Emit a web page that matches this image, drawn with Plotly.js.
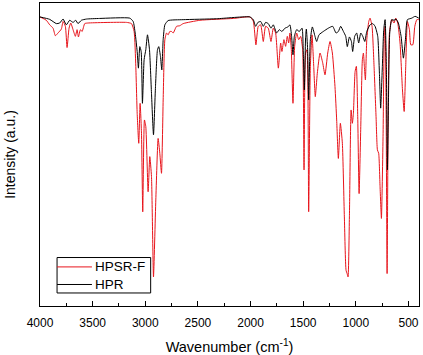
<!DOCTYPE html>
<html>
<head>
<meta charset="utf-8">
<script src="https://cdn.plot.ly/plotly-3.0.1.min.js"></script>
<style>html,body{margin:0;padding:0;background:#fff;}#chart{width:423px;height:355px;}</style>
</head>
<body>
<div id="chart"></div>
<script>
// HPSR-F (red) spectrum: wavenumber (cm-1) and intensity (a.u., 0-100 scale)
const wnHPSRF = [4000,3940,3908,3876,3854,3829,3797,3781,3759,3743,3724,3708,3686,3664,3648,3635,3616,3600,3575,3543,3179,3131,3106,3090,3077,3062,3049,3036,3024,3008,2995,2973,2957,2941,2922,2900,2878,2862,2846,2830,2814,2798,2783,2767,2751,2735,2703,2672,2640,2481,2164,2006,1974,1949,1927,1904,1879,1857,1832,1806,1784,1762,1736,1714,1702,1683,1667,1651,1638,1626,1613,1597,1581,1562,1543,1524,1505,1492,1477,1464,1448,1432,1416,1400,1385,1366,1340,1315,1293,1267,1245,1223,1198,1182,1166,1147,1128,1109,1093,1083,1074,1061,1045,1033,1023,1007,995,982,969,953,938,928,919,909,896,877,865,846,827,808,795,783,770,757,741,729,722,713,703,694,681,659,637,621,602,580,557,541,526,510,491,478,459,440,421,402];
const intHPSRF = [95.4,94.3,92.8,91.7,89.2,90.1,91.4,93.9,92.3,85.3,91.7,93.4,91.2,89.0,91.2,88.8,91.2,90.6,93.2,93.4,93.6,93.2,90.6,79.1,63.6,53.7,66.9,57.0,31.1,61.4,59.2,37.7,49.3,42.7,9.6,35.0,55.3,50.4,43.8,68.0,87.9,90.1,89.5,90.6,90.6,90.1,92.3,92.5,93.2,94.3,94.9,95.4,94.0,86.2,92.3,92.8,87.3,92.3,91.7,87.3,91.7,90.1,78.5,86.8,84.0,87.9,85.7,89.0,86.8,90.1,84.6,66.9,85.7,90.1,87.9,89.0,84.6,44.9,83.5,84.6,31.1,79.1,89.5,79.1,69.1,76.8,83.5,80.3,76.3,83.5,87.3,83.5,72.4,61.4,48.7,60.3,53.7,29.4,11.8,10.7,9.6,29.4,64.7,60.3,63.6,77.4,79.1,62.5,37.1,59.2,81.3,83.5,79.1,74.6,87.9,93.9,95.0,92.3,79.1,62.5,51.5,50.4,39.4,28.9,57.0,90.1,92.3,68.0,10.7,57.0,90.1,94.5,93.4,95.0,93.4,86.8,71.3,64.2,79.1,93.9,91.2,86.2,86.2,92.3,94.5,94.5];

// HPR (black) spectrum
const wnHPR = [4000,3908,3845,3813,3781,3750,3718,3686,3661,3639,3607,3559,3433,3147,3115,3096,3077,3065,3052,3039,3027,3011,2995,2979,2960,2941,2922,2903,2884,2872,2856,2843,2830,2814,2783,2640,2323,2006,1974,1952,1930,1904,1879,1857,1832,1806,1784,1752,1727,1702,1673,1645,1626,1610,1597,1584,1562,1537,1511,1499,1489,1477,1470,1458,1448,1432,1413,1388,1372,1350,1309,1261,1220,1188,1166,1144,1118,1096,1081,1061,1042,1030,1011,992,973,953,934,915,896,865,839,817,792,776,764,748,735,722,710,700,690,678,659,637,618,596,570,548,529,510,469,437,402];
const intHPR = [95.4,94.6,93.2,93.4,94.7,92.8,94.3,93.6,94.3,93.2,94.3,94.7,94.9,95.0,93.9,90.1,84.0,78.5,85.6,84.0,66.9,81.3,84.6,89.5,84.6,70.2,56.5,72.4,84.6,85.6,82.4,77.9,87.9,92.8,94.2,94.5,94.8,95.4,94.5,92.3,93.6,93.9,92.3,93.6,93.2,91.7,92.8,90.1,91.2,90.6,91.7,92.1,92.8,89.0,82.9,89.0,91.2,90.6,91.7,83.5,71.3,89.0,91.4,84.6,68.0,87.9,92.1,89.0,87.3,89.5,90.6,91.7,92.3,90.1,90.6,92.3,90.6,89.0,85.6,88.8,87.3,84.0,89.0,90.1,86.8,90.1,89.0,87.3,90.6,92.8,93.2,92.3,89.0,76.8,65.3,79.1,91.2,94.5,79.1,44.9,68.0,90.1,94.5,94.3,94.7,93.4,89.0,81.8,87.9,94.5,95.0,95.6,95.0];

const seriesNames = ['HPSR-F', 'HPR'];
const seriesColors = ['#e8141b', '#000000'];
const xTickVals = [4000,3500,3000,2500,2000,1500,1000,500];

const traces = [
  {x: wnHPSRF, y: intHPSRF, name: seriesNames[0], type: 'scatter', mode: 'lines',
   line: {color: seriesColors[0], width: 1, shape: 'spline', smoothing: 0.5}},
  {x: wnHPR, y: intHPR, name: seriesNames[1], type: 'scatter', mode: 'lines',
   line: {color: seriesColors[1], width: 1, shape: 'spline', smoothing: 0.5}}
];

const font = 'Liberation Sans, Arial, sans-serif';

// Legend drawn as a framed box (paper coordinates) so row spacing matches the original
const legBox = {x0: 0.045, x1: 0.292, y0: 0.043, y1: 0.160};
const legRowsY = [0.129, 0.071];
const legLine = {x0: 0.045, x1: 0.137};
const legTextX = 0.140;

const shapes = [{type: 'rect', xref: 'paper', yref: 'paper', x0: legBox.x0, x1: legBox.x1, y0: legBox.y0, y1: legBox.y1,
  line: {color: '#000', width: 1}, fillcolor: '#fff', layer: 'above'}];
const annotations = [];
seriesNames.forEach((n, i) => {
  shapes.push({type: 'line', xref: 'paper', yref: 'paper', x0: legLine.x0, x1: legLine.x1, y0: legRowsY[i], y1: legRowsY[i],
    line: {color: seriesColors[i], width: 1}, layer: 'above'});
  annotations.push({xref: 'paper', yref: 'paper', x: legTextX, y: legRowsY[i], xanchor: 'left', yanchor: 'middle',
    text: n, showarrow: false, font: {family: font, size: 13.5, color: '#000'}});
});

const layout = {
  width: 423, height: 355,
  margin: {l: 40, r: 4, t: 3, b: 49, pad: 0},
  paper_bgcolor: '#fff', plot_bgcolor: '#fff',
  font: {family: font, color: '#000', size: 12},
  showlegend: false,
  shapes: shapes,
  annotations: annotations,
  xaxis: {
    range: [4000, 400], autorange: false,
    tickvals: xTickVals, ticks: 'inside', ticklen: 5, tickwidth: 1, tickcolor: '#000',
    minor: {dtick: 250, ticks: 'inside', ticklen: 3, tickcolor: '#000', tickwidth: 1},
    ticklabelstandoff: 6,
    showline: true, linecolor: '#000', linewidth: 1, mirror: true,
    showgrid: false, zeroline: false,
    tickfont: {family: font, size: 12, color: '#000'},
    title: {text: 'Wavenumber (cm<sup>-1</sup>)', font: {family: font, size: 14.5, color: '#000'}, standoff: 12}
  },
  yaxis: {
    range: [0, 100], autorange: false,
    showticklabels: false, ticks: '',
    showline: true, linecolor: '#000', linewidth: 1, mirror: true,
    showgrid: false, zeroline: false,
    title: {text: 'Intensity (a.u.)', font: {family: font, size: 14, color: '#000'}, standoff: 20}
  }
};

Plotly.newPlot('chart', traces, layout, {displayModeBar: false, staticPlot: true});
</script>
</body>
</html>
